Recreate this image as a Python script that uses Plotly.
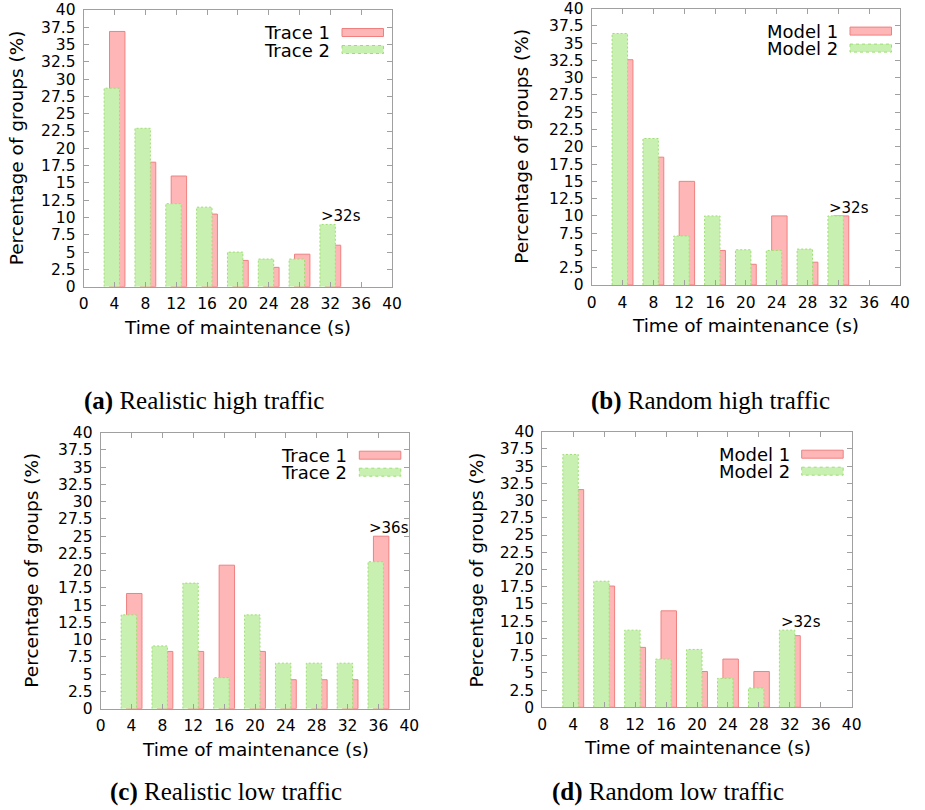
import plotly.graph_objects as go

# ---------------- data ----------------
times_8 = [4, 8, 12, 16, 20, 24, 28, 32]
times_9 = [4, 8, 12, 16, 20, 24, 28, 32, 36]

real_high_trace1 = [36.9, 18.0, 16.0, 10.5, 3.8, 2.8, 4.7, 6.0]
real_high_trace2 = [28.7, 22.9, 12.0, 11.5, 5.0, 4.0, 4.0, 9.0]

rand_high_model1 = [32.6, 18.5, 15.0, 5.0, 3.0, 10.0, 3.3, 10.0]
rand_high_model2 = [36.4, 21.2, 7.1, 10.0, 5.1, 5.0, 5.2, 10.0]

real_low_trace1 = [16.7, 8.3, 8.3, 20.8, 8.3, 4.2, 4.2, 4.2, 25.0]
real_low_trace2 = [13.6, 9.1, 18.2, 4.5, 13.6, 6.6, 6.6, 6.6, 21.3]

rand_low_model1 = [31.6, 17.6, 8.7, 14.0, 5.2, 7.0, 5.2, 10.4]
rand_low_model2 = [36.7, 18.3, 11.2, 7.0, 8.4, 4.2, 2.8, 11.2]

x_ticks = list(range(0, 41, 4))
y_ticks = [i * 2.5 for i in range(17)]
y_tick_text = [("%g" % v) for v in y_ticks]

# ---------------- page geometry (pixels) ----------------
W, H = 925, 810
panels = [
    # left, right, top, bottom
    (83.7, 392.0, 10.0, 286.7),
    (591.7, 900.0, 8.6, 285.0),
    (100.7, 409.3, 432.7, 708.7),
    (542.3, 851.7, 431.7, 707.3),
]

specs = [
    dict(x=times_8, s1=real_high_trace1, s2=real_high_trace2,
         names=("Trace 1", "Trace 2"), tag=">32s",
         caption=("(a)", "Realistic high traffic"), ytitle_x=16, xtitle_y=327,
         cap_x=204, cap_y=401),
    dict(x=times_8, s1=rand_high_model1, s2=rand_high_model2,
         names=("Model 1", "Model 2"), tag=">32s",
         caption=("(b)", "Random high traffic"), ytitle_x=522, xtitle_y=325,
         cap_x=710, cap_y=401),
    dict(x=times_9, s1=real_low_trace1, s2=real_low_trace2,
         names=("Trace 1", "Trace 2"), tag=">36s",
         caption=("(c)", "Realistic low traffic"), ytitle_x=32, xtitle_y=749,
         cap_x=226, cap_y=792),
    dict(x=times_8, s1=rand_low_model1, s2=rand_low_model2,
         names=("Model 1", "Model 2"), tag=">32s",
         caption=("(d)", "Random low traffic"), ytitle_x=476, xtitle_y=747,
         cap_x=668, cap_y=792),
]

RED_FILL = "#ffb6b6"
RED_LINE = "#f08080"
GREEN_FILL = "#c8f0b0"
GREEN_LINE = "#9ede74"
FRAME = "#a0a0a0"
FONT = "DejaVu Sans"

BAR_W = 2.0
OFF_1 = -0.65   # first series box starts this far from its time value
OFF_2 = -1.35   # second series box


def px_x(p):
    return p / W


def px_y(p):
    return 1 - p / H


fig = go.Figure()
annotations = []
shapes = []
layout_axes = {}

for i, (spec, (l, r, t, b)) in enumerate(zip(specs, panels), start=1):
    xa = "x" if i == 1 else "x%d" % i
    ya = "y" if i == 1 else "y%d" % i
    xs = spec["x"]

    fig.add_trace(go.Bar(
        x=xs, y=spec["s1"], width=BAR_W, offset=OFF_1,
        marker=dict(color=RED_FILL, line=dict(color=RED_LINE, width=1)),
        xaxis=xa, yaxis=ya, showlegend=False, hoverinfo="x+y"))
    fig.add_trace(go.Bar(
        x=xs, y=spec["s2"], width=BAR_W, offset=OFF_2,
        marker=dict(color=GREEN_FILL, line=dict(width=0)),
        xaxis=xa, yaxis=ya, showlegend=False, hoverinfo="x+y"))

    # dashed outline of the second series boxes
    ox, oy = [], []
    for xv, yv in zip(xs, spec["s2"]):
        x0 = xv + OFF_2
        x1 = x0 + BAR_W
        ox += [x0, x0, x1, x1, None]
        oy += [0, yv, yv, 0, None]
    fig.add_trace(go.Scatter(
        x=ox, y=oy, mode="lines",
        line=dict(color=GREEN_LINE, width=1, dash="2px,2px"),
        xaxis=xa, yaxis=ya, showlegend=False, hoverinfo="skip"))

    # label over the last (overflow) bin
    last = len(xs) - 1
    annotations.append(dict(
        x=xs[last] + OFF_2 - 0.1, y=max(spec["s1"][last], spec["s2"][last]),
        xref=xa, yref=ya, text=spec["tag"], showarrow=False,
        xanchor="left", yanchor="bottom", yshift=-3,
        font=dict(family=FONT, size=15, color="black")))

    axis_common = dict(
        showgrid=False, zeroline=False, showline=True, linecolor=FRAME,
        linewidth=1, mirror="allticks", ticks="inside", ticklen=5,
        tickcolor=FRAME, tickwidth=1, automargin=False,
        ticklabeloverflow="allow",
        tickfont=dict(family=FONT, size=15.5, color="black"),
    )
    layout_axes["xaxis" if i == 1 else "xaxis%d" % i] = dict(
        axis_common, domain=[px_x(l), px_x(r)], range=[0, 40],
        tickmode="array", tickvals=x_ticks, anchor=ya,
        ticklabelstandoff=3)
    layout_axes["yaxis" if i == 1 else "yaxis%d" % i] = dict(
        axis_common, domain=[px_y(b), px_y(t)], range=[0, 40],
        tickmode="array", tickvals=y_ticks, ticktext=y_tick_text,
        anchor=xa, ticklabelstandoff=4)

    # axis titles
    annotations.append(dict(
        x=px_x(spec["ytitle_x"]), y=px_y((t + b) / 2), xref="paper", yref="paper",
        text="Percentage of groups (%)", textangle=-90, showarrow=False,
        xanchor="center", yanchor="middle",
        font=dict(family=FONT, size=18.5, color="black")))
    annotations.append(dict(
        x=px_x((l + r) / 2), y=px_y(spec["xtitle_y"]), xref="paper", yref="paper",
        text="Time of maintenance (s)", showarrow=False,
        xanchor="center", yanchor="middle",
        font=dict(family=FONT, size=18.5, color="black")))

    # key: text at left, sample box at right
    for k, (name, fill, line, dash) in enumerate(zip(
            spec["names"], (RED_FILL, GREEN_FILL), (RED_LINE, GREEN_LINE),
            ("solid", "dot"))):
        cy = t + 22.5 + 17 * k
        annotations.append(dict(
            x=px_x(r - 60), y=px_y(cy), xref="paper", yref="paper",
            text=name, showarrow=False, xanchor="right", yanchor="middle",
            height=16, valign="middle",
            font=dict(family=FONT, size=18, color="black")))
        shapes.append(dict(
            type="rect", xref="paper", yref="paper",
            x0=px_x(r - 50), x1=px_x(r - 8.5),
            y0=px_y(cy - 4), y1=px_y(cy + 4),
            fillcolor=fill, line=dict(color=line, width=1, dash=dash)))

    # caption
    tag, desc = spec["caption"]
    annotations.append(dict(
        x=px_x(spec["cap_x"]), y=px_y(spec["cap_y"]), xref="paper", yref="paper",
        text="<b>%s</b> %s" % (tag, desc), showarrow=False,
        xanchor="center", yanchor="middle",
        font=dict(family="Liberation Serif", size=25, color="black")))

fig.update_layout(
    width=W, height=H, margin=dict(l=0, r=0, t=0, b=0, autoexpand=False),
    paper_bgcolor="white", plot_bgcolor="white",
    barmode="overlay", showlegend=False,
    annotations=annotations, shapes=shapes,
    **layout_axes)

fig.write_html("out.html")
